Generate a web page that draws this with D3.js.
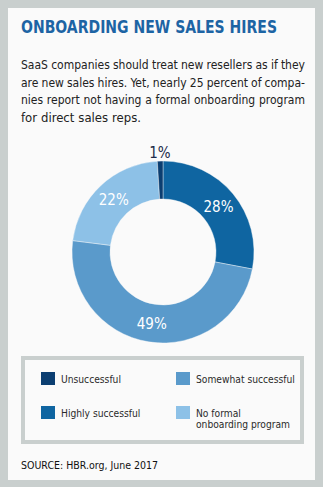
<!DOCTYPE html>
<html><head><meta charset="utf-8">
<script src="https://cdn.jsdelivr.net/npm/d3@7"></script>
<style>
html,body{margin:0;padding:0;background:#fff;}
svg{display:block;}
</style></head>
<body>
<script>
const categories = ["Highly successful", "Somewhat successful", "No formal onboarding program", "Unsuccessful"];
const values = [28, 49, 22, 1];
const sliceColors = ["#0f65a1", "#5a9acb", "#8dc1e7", "#0b3e71"];
const legendOrder = ["Unsuccessful", "Somewhat successful", "Highly successful", "No formal onboarding program"];
const legendLines = [["Unsuccessful"], ["Somewhat successful"], ["Highly successful"], ["No formal", "onboarding program"]];
const title = "ONBOARDING NEW SALES HIRES";
const bodyLines = [
  "SaaS companies should treat new resellers as if they",
  "are new sales hires. Yet, nearly 25 percent of compa-",
  "nies report not having a formal onboarding program",
  "for direct sales reps."
];
const source = "SOURCE: HBR.org, June 2017";

const W = 323, H = 487;
const FONT = "'DejaVu Sans Condensed','Liberation Sans Narrow',Roboto,sans-serif";
const svg = d3.select("body").append("svg").attr("width", W).attr("height", H);

// frame
svg.append("rect").attr("x",0).attr("y",0).attr("width",W).attr("height",H).attr("fill","#c9cfce");
svg.append("rect").attr("x",8).attr("y",8).attr("width",307).attr("height",472).attr("fill","#fafafa");

// title
svg.append("text").attr("x",21).attr("y",33)
  .attr("font-family", FONT).attr("font-weight","bold").attr("font-size",17)
  .attr("fill","#1d64a4").attr("textLength",256).attr("lengthAdjust","spacingAndGlyphs")
  .text(title);

// justified body
const bodyX = 21, bodyW = 284, bodyTop = 69, lineH = 17.7;
bodyLines.forEach((line, i) => {
  const words = line.split(" ");
  const y = bodyTop + i*lineH;
  const last = i === bodyLines.length - 1;
  let fs = 13;
  const g = svg.append("g");
  let nodes, widths, total, gap;
  for (let iter = 0; iter < 12; iter++) {
    g.selectAll("*").remove();
    nodes = words.map(w => g.append("text").attr("y", y).attr("font-family", FONT)
      .attr("font-size", fs).attr("fill","#222").text(w));
    widths = nodes.map(n => n.node().getComputedTextLength());
    total = d3.sum(widths);
    gap = last ? fs*0.3 : (bodyW - total) / (words.length - 1);
    if (gap >= fs*0.24) break;
    fs -= 0.25;
  }
  let x = bodyX;
  nodes.forEach((n, k) => { n.attr("x", x); x += widths[k] + gap; });
});

// donut
const cx = 163, cy = 252, rOut = 91, rIn = 53;
const pie = d3.pie().sort(null).value(d => d)(values);
const arc = d3.arc().innerRadius(rIn).outerRadius(rOut);
const labelArc = d3.arc().innerRadius(72).outerRadius(72);
const outerLabelArc = d3.arc().innerRadius(99).outerRadius(99);
const color = d3.scaleOrdinal().domain(categories).range(sliceColors);
const dg = svg.append("g").attr("transform", `translate(${cx},${cy})`);
dg.selectAll("path").data(pie).join("path")
  .attr("d", arc).attr("fill", (d,i) => color(categories[i]))
  .attr("stroke", "#fafafa").attr("stroke-width", 0.4);
dg.selectAll("text.lbl").data(pie).join("text").attr("class","lbl")
  .attr("transform", d => {
    const p = (d.data < 3 ? outerLabelArc : labelArc).centroid(d);
    return `translate(${p[0]},${p[1]})`;
  })
  .attr("text-anchor","middle").attr("dy","0.36em")
  .attr("font-family", FONT).attr("font-size", 15)
  .attr("fill", d => d.data < 3 ? "#1b2a4a" : "#ffffff")
  .text(d => d.data + "%");

// legend
svg.append("rect").attr("x",23).attr("y",358).attr("width",279).attr("height",84)
  .attr("fill","#fafafa").attr("stroke","#c9cfce").attr("stroke-width",4);
const colX = [41, 176], rowY = [372, 406];
legendOrder.forEach((cat, i) => {
  const x = colX[i % 2], y = rowY[Math.floor(i/2)];
  svg.append("rect").attr("x", x).attr("y", y).attr("width", 14).attr("height", 13).attr("fill", color(cat));
  const tx = svg.append("text").attr("font-family", FONT).attr("font-size", 10.2).attr("fill", "#2a2a2a");
  legendLines[i].forEach((t, j) => {
    tx.append("tspan").attr("x", x + 20).attr("y", y + 10.5 + j*11.9).text(t);
  });
});

// source
svg.append("text").attr("x",21).attr("y",469).attr("font-family", FONT)
  .attr("font-size",10.5).attr("fill","#111").text(source);
</script>
</body></html>
